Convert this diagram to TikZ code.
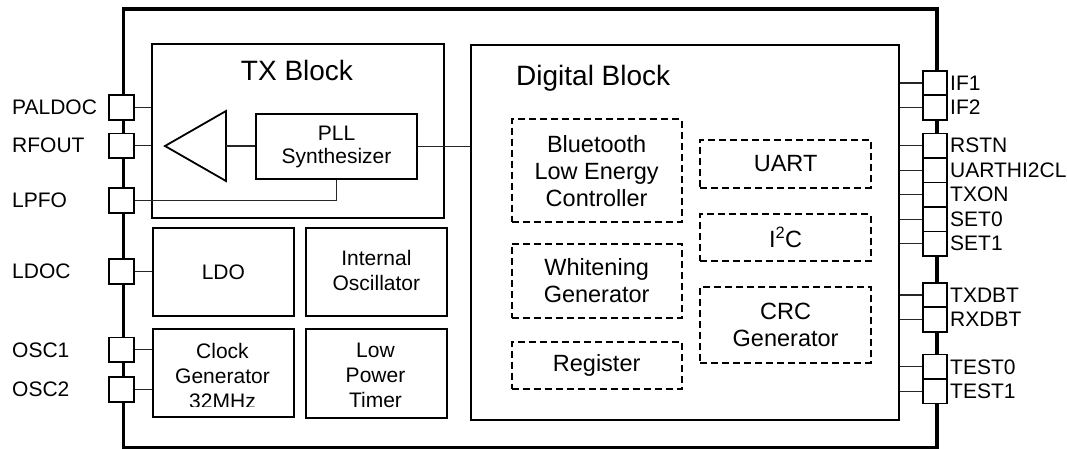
\documentclass[tikz,border=0pt]{standalone}
\usepackage{fontspec}
\setmainfont{Liberation Sans}
\begin{document}
\begin{tikzpicture}[x=1pt, y=-1pt,
  chip/.style={draw, line width=3.5pt, inner sep=0, anchor=north west},
  blk/.style={draw, line width=1.8pt, inner sep=0, anchor=north west},
  dbox/.style={draw, line width=1.9pt, dash pattern=on 7pt off 4pt, inner sep=0,
    anchor=north west, align=center, font=\fontsize{23.5}{27}\selectfont},
  pin/.style={draw, fill=white, line width=1.7pt, minimum width=24.5pt,
    minimum height=24.5pt, inner sep=0},
  stub/.style={line width=1.1pt, black!85},
  lbl/.style={inner sep=0, font=\fontsize{21}{25}\selectfont, align=center},
  title/.style={inner sep=0, font=\fontsize{28}{32}\selectfont},
]
\useasboundingbox (0,0) rectangle (1067,448);

% package outline
\node[chip, minimum width=813.5pt, minimum height=439pt] (chip) at (121.5,7) {};

% TX block
\node[blk, minimum width=292pt, minimum height=174pt] (tx) at (151,43) {};
\node[title, anchor=base] (txtitle) at (297,80) {TX Block};
\node[blk, minimum width=161pt, minimum height=65pt, anchor=center,
  lbl, font=\fontsize{21}{23}\selectfont] (pll) at (336.5,146.5) {PLL\\Synthesizer};
\coordinate (amptip) at (165,146);
\coordinate (amptop) at (226,111);
\coordinate (ampbot) at (226,181);
\coordinate (ampout) at (226,146);
\draw[line width=1.8pt, line join=miter] (amptip) -- (amptop) -- (ampbot) -- cycle;
\draw[stub] (ampout) -- (ampout -| pll.west);

% analog blocks
\node[blk, minimum width=141pt, minimum height=88pt] (ldo) at (152,227) {};
\node[lbl] (ldotext) at (ldo.center) {LDO};
\node[blk, minimum width=141pt, minimum height=88pt] (osc) at (305,227) {};
\node[lbl] (osctext) at ([yshift=1pt]osc.center) {Internal\\Oscillator};
\node[blk, minimum width=141pt, minimum height=88pt] (clk) at (152,328) {};
\begin{scope}
  \clip (152,328) rectangle (293,406.5);
  \node[lbl] (clktext) at (222.5,375.8) {Clock\\Generator\\32MHz};
\end{scope}
\node[blk, minimum width=141pt, minimum height=89pt] (lpt) at (305,328) {};
\node[lbl] (lpttext) at (375.5,375.3) {Low\\Power\\Timer};

% digital block
\node[blk, minimum width=428pt, minimum height=375pt] (dig) at (470,44) {};
\node[title, anchor=base west] (digtitle) at (516,85) {Digital Block};
\node[dbox, minimum width=170pt, minimum height=102.7pt] (ble) at (510.7,118.3) {Bluetooth\\Low Energy\\Controller};
\node[dbox, minimum width=170pt, minimum height=74.6pt] (wg) at (510.7,242.7) {Whitening\\Generator};
\node[dbox, minimum width=170pt, minimum height=47pt] (reg) at (510.7,340.7) {Register};
\node[dbox, minimum width=170.7pt, minimum height=47.4pt] (uart) at (699.3,139.3) {UART};
\node[dbox, minimum width=170.7pt, minimum height=46.7pt] (i2c) at (699.3,213.3) {I\textsuperscript{2}C};
\node[dbox, minimum width=170.7pt, minimum height=75.7pt] (crc) at (699.3,286) {CRC\\Generator};

\draw[stub] (pll.east) -- (pll.east -| dig.west);

% left pins
\foreach \nm/\yy in {paldoc/107.5, rfout/145.7, lpfo/200.5, ldoc/271.5, osca/349.8, oscb/389.5}{
  \node[pin] (p-\nm) at (121.5,\yy) {};
}
\foreach \nm/\tx in {paldoc/PALDOC, rfout/RFOUT, lpfo/LPFO, ldoc/LDOC, osca/OSC1, oscb/OSC2}{
  \node[lbl, anchor=west] (l-\nm) at (12,0 |- p-\nm) {\tx};
}
\draw[stub] (p-paldoc.east) -- (p-paldoc.east -| tx.west);
\draw[stub] (p-rfout.east) -- (p-rfout.east -| tx.west);
\draw[stub] (p-lpfo.east) -| (pll.south);
\draw[stub] (p-ldoc.east) -- (p-ldoc.east -| ldo.west);
\draw[stub] (p-osca.east) -- (p-osca.east -| clk.west);
\draw[stub] (p-oscb.east) -- (p-oscb.east -| clk.west);

% right pins
\foreach \nm/\yy/\tx in {ifa/83/IF1, ifb/107.5/IF2, rstn/145.7/RSTN, uh/170.2/UARTHI2CL,
  txon/194.7/TXON, seta/219.2/SET0, setb/243.7/SET1, txdbt/295/TXDBT, rxdbt/319.5/RXDBT,
  testa/366.8/TEST0, testb/391.3/TEST1}{
  \node[pin] (p-\nm) at (935,\yy) {};
  \node[lbl, anchor=west] (l-\nm) at (950,\yy) {\tx};
  \draw[stub] (p-\nm.west) -- (p-\nm.west -| dig.east);
}
\end{tikzpicture}
\end{document}
